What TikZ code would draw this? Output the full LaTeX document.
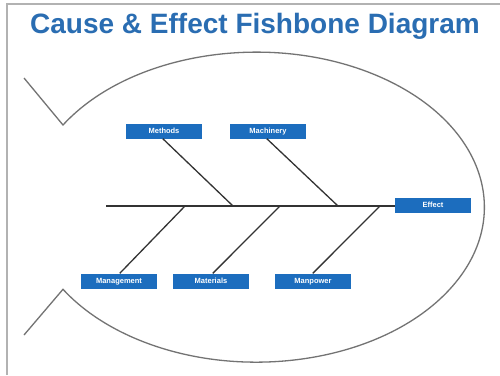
\documentclass[tikz,border=0pt]{standalone}
\usepackage{fontspec}
\setmainfont{Liberation Sans}
\begin{document}
\begin{tikzpicture}[x=1pt,y=-1pt,
  cat/.style={fill=boxblue,text=white,font=\bfseries\fontsize{7.5}{8}\selectfont,minimum width=76pt,minimum height=15pt,inner sep=0pt,text height=5.4pt,text depth=0pt},
  bone/.style={draw=black!80,line width=1.3pt},
  body/.style={draw=black!55,line width=1.3pt}]
\definecolor{boxblue}{HTML}{1C6DBE}
\definecolor{titleblue}{HTML}{2A6DB2}
\useasboundingbox (0,0) rectangle (500,375);
\fill[white] (0,0) rectangle (500,375);
% frame
\draw[black!30,line width=1.5pt] (7,375) -- (7,4) -- (500,4);
% title
\node[font=\bfseries\fontsize{28}{30}\selectfont,text=titleblue] (title) at (255,26) {Cause \& Effect Fishbone Diagram};
% fish body
\coordinate (tailtop) at (24,78);
\coordinate (tailbot) at (24,335);
\draw[body] (tailtop) -- (63,125) arc[start angle=-148,end angle=148,x radius=228,y radius=155] -- (tailbot);
% boxes
\node[cat] (methods) at (164,131) {Methods};
\node[cat] (machinery) at (268,131) {Machinery};
\node[cat] (effect) at (433,205) {Effect};
\node[cat] (management) at (119,281) {Management};
\node[cat] (materials) at (211,281) {Materials};
\node[cat] (manpower) at (313,281) {Manpower};
% spine
\coordinate (head) at (106,206);
\coordinate (s1) at (185,206);
\coordinate (s2) at (233,206);
\coordinate (s3) at (280,206);
\coordinate (s4) at (338,206);
\coordinate (s5) at (380,206);
\draw[bone,line width=1.5pt] (head) -- (effect.west |- head);
\draw[bone] (methods.south west) ++(37,0) -- (s2);
\draw[bone] (machinery.south west) ++(37,0) -- (s4);
\draw[bone] (management.north west) ++(39,0) -- (s1);
\draw[bone] (materials.north west) ++(40,0) -- (s3);
\draw[bone] (manpower.north west) ++(38,0) -- (s5);
\end{tikzpicture}
\end{document}
